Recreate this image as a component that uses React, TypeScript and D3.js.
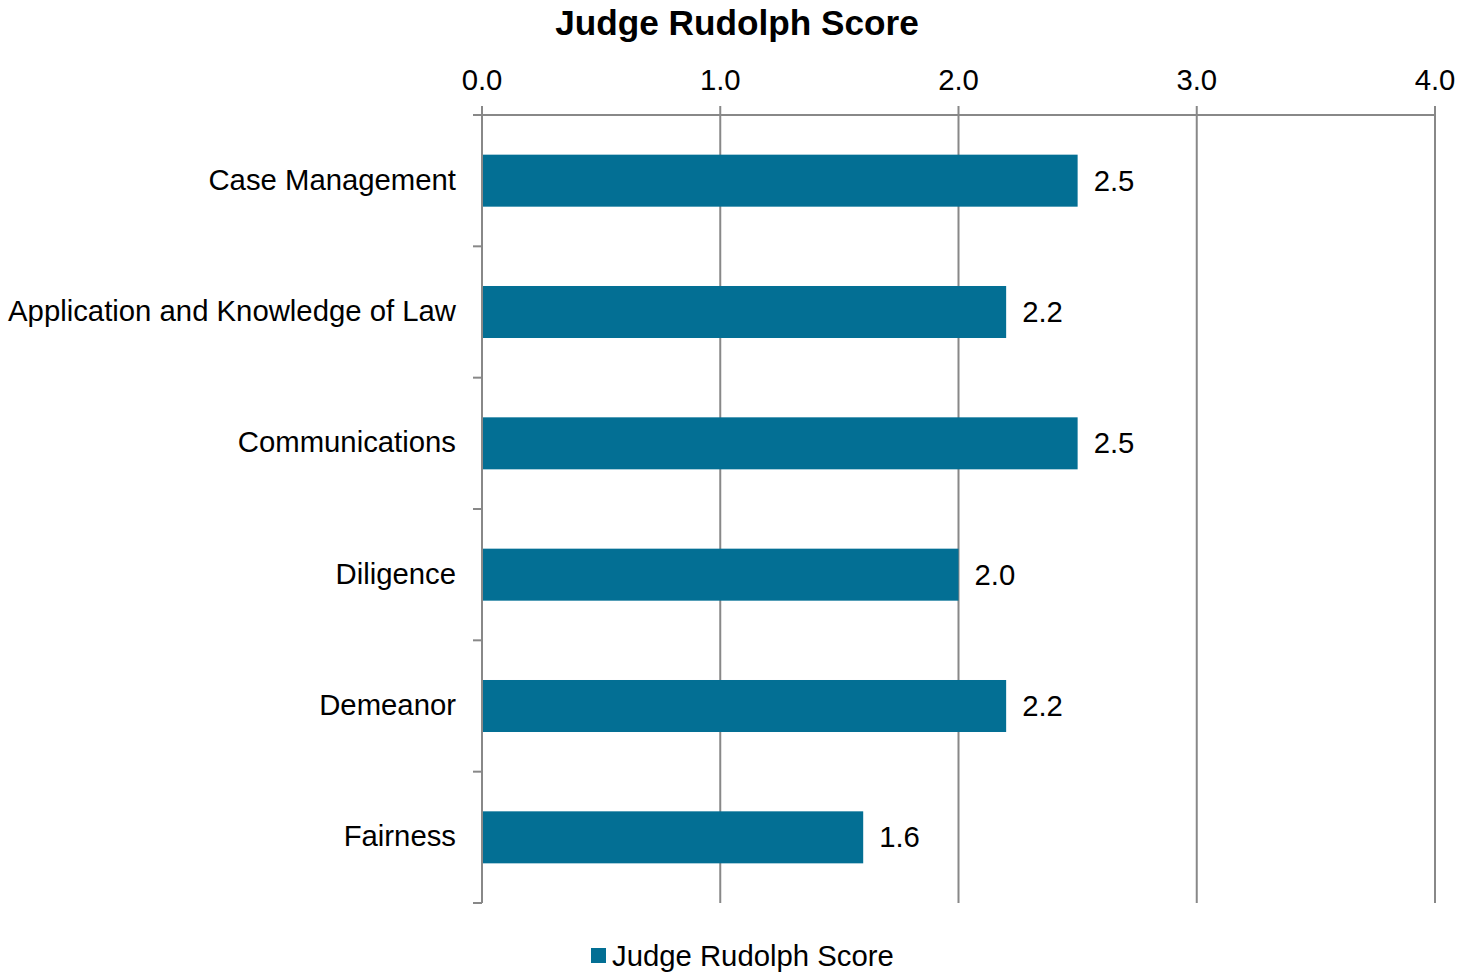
import React from "react";
import * as d3 from "d3";

const categories = [
  "Case Management",
  "Application and Knowledge of Law",
  "Communications",
  "Diligence",
  "Demeanor",
  "Fairness",
];
const scores = [2.5, 2.2, 2.5, 2.0, 2.2, 1.6];
const xTicks = [0, 1, 2, 3, 4];
const seriesName = "Judge Rudolph Score";
const title = "Judge Rudolph Score";

const W = 1473;
const H = 973;
const FONT = "'Liberation Sans', Arial, sans-serif";
const BAR = "#036f94";
const GRID = "#888888";
const FS = 29.3;

export default function App() {
  const left = 482;
  const right = 1435;
  const top = 115;
  const bottom = 903;
  const x = d3.scaleLinear().domain([0, 4]).range([left, right]);
  const y = d3
    .scaleBand<string>()
    .domain(categories)
    .range([top, bottom])
    .paddingInner(0.604)
    .paddingOuter(0.302);
  const step = y.step();
  const boundaries = d3.range(categories.length + 1).map((i) => top + i * step);

  return (
    <svg
      width={W}
      height={H}
      style={{ position: "absolute", left: 0, top: 0, background: "#fff" }}
      fontFamily={FONT}
    >
      <text x={737} y={35} textAnchor="middle" fontSize={35.2} fontWeight="bold" fill="#000">
        {title}
      </text>
      {xTicks.map((t) => (
        <g key={t}>
          <line x1={x(t)} x2={x(t)} y1={top - 9} y2={bottom} stroke={GRID} strokeWidth={2} />
          <text x={x(t)} y={90} textAnchor="middle" fontSize={FS} fill="#000">
            {d3.format(".1f")(t)}
          </text>
        </g>
      ))}
      <line x1={left - 9} x2={right} y1={top} y2={top} stroke={GRID} strokeWidth={2} />
      {boundaries.map((b, i) => (
        <line key={i} x1={left - 9} x2={left} y1={b} y2={b} stroke={GRID} strokeWidth={2} />
      ))}
      {categories.map((c, i) => (
        <g key={c}>
          <rect
            x={x(0) + 1}
            y={y(c)!}
            width={x(scores[i]) - x(0) - 1}
            height={y.bandwidth()}
            fill={BAR}
          />
          <text
            x={x(scores[i]) + 16}
            y={y(c)! + y.bandwidth() / 2 + 10}
            fontSize={FS}
            fill="#000"
          >
            {d3.format(".1f")(scores[i])}
          </text>
          <text
            x={456}
            y={y(c)! + y.bandwidth() / 2 + 9}
            textAnchor="end"
            fontSize={FS}
            fill="#000"
          >
            {c}
          </text>
        </g>
      ))}
      <rect x={591} y={948} width={15} height={15} fill={BAR} />
      <text x={612} y={966} fontSize={FS} fill="#000">
        {seriesName}
      </text>
    </svg>
  );
}
